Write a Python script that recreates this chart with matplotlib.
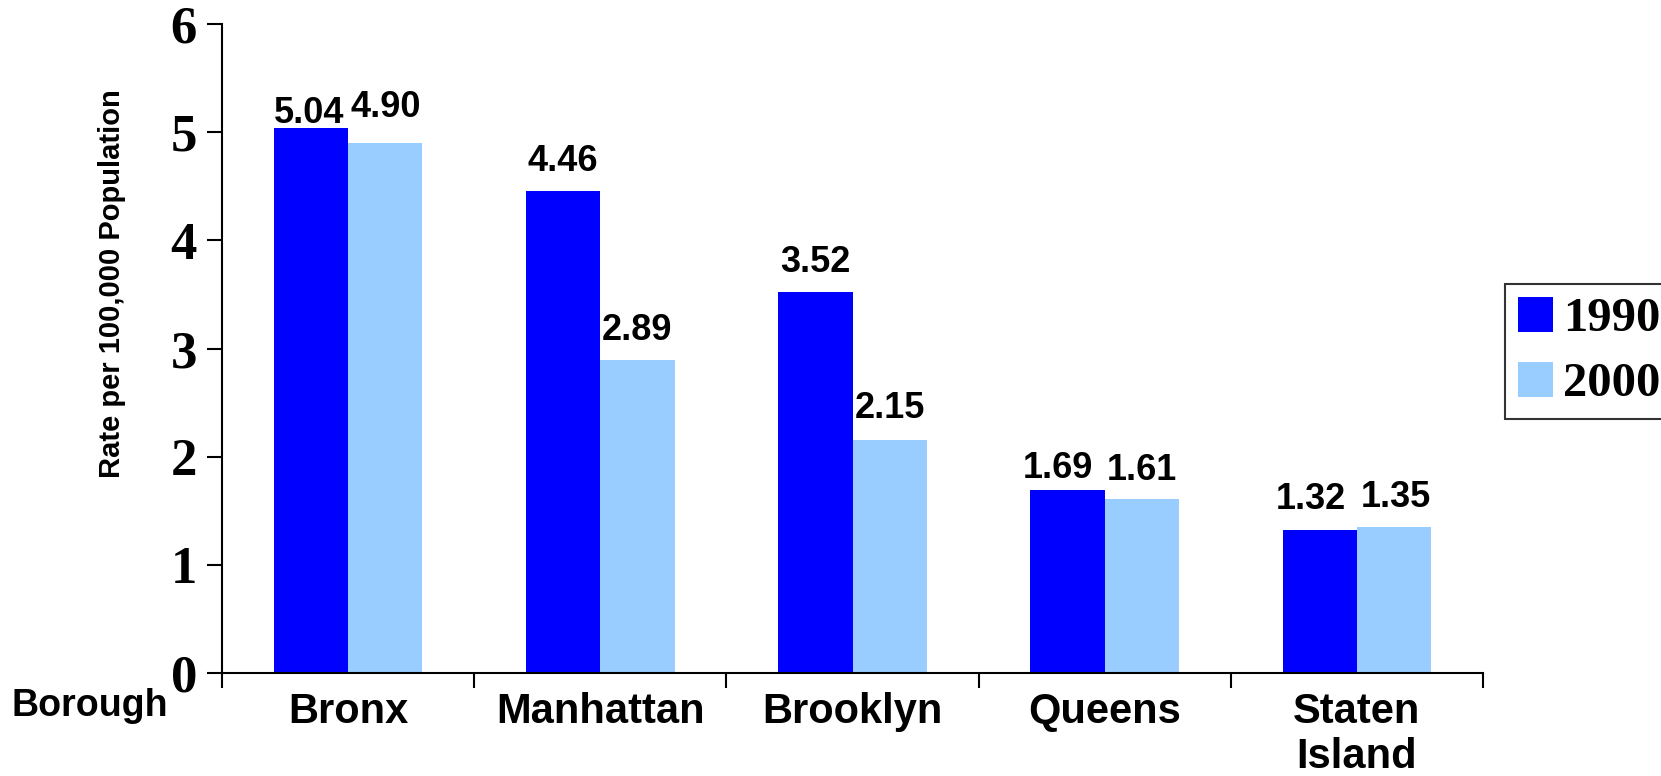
import matplotlib.pyplot as plt
import numpy as np

boroughs = ["Bronx", "Manhattan", "Brooklyn", "Queens", "Staten\nIsland"]
rate_1990 = [5.04, 4.46, 3.52, 1.69, 1.32]
rate_2000 = [4.90, 2.89, 2.15, 1.61, 1.35]
series_names = ["1990", "2000"]

# label nudges in pixels (dx, gap above bar top) - the original is uneven
nudge_1990 = [(-2, 5), (0, 20), (0, 20), (-10, 12), (-9, 21)]
nudge_2000 = [(0, 26), (0, 20), (0, 22), (0, 19), (2, 20)]

c1990 = "#0000FF"
c2000 = "#99CCFF"

fig = plt.figure(figsize=(16.61, 7.76), dpi=100)
ax = fig.add_axes([222/1661, 1-673/776, (1483-222)/1661, (673-24)/776])

x = np.arange(len(boroughs)) + 0.5
w = 0.295

b1 = ax.bar(x - w/2, rate_1990, w, color=c1990, label=series_names[0], zorder=2)
b2 = ax.bar(x + w/2, rate_2000, w, color=c2000, label=series_names[1], zorder=2)

for bars, vals, nudges in ((b1, rate_1990, nudge_1990), (b2, rate_2000, nudge_2000)):
    for bar, v, (dx, g) in zip(bars, vals, nudges):
        ax.annotate(f"{v:.2f}", (bar.get_x() + bar.get_width()/2, v),
                    xytext=(dx*0.72, g*0.72), textcoords="offset points",
                    ha="center", va="baseline", fontsize=26, fontweight="bold",
                    family="Liberation Sans")

ax.set_xlim(0, 5)
ax.set_ylim(0, 6)

for s in ("top", "right"):
    ax.spines[s].set_visible(False)
for s in ("left", "bottom"):
    ax.spines[s].set_linewidth(1.5)

ax.set_yticks(range(7))
ax.set_yticklabels([str(i) for i in range(7)], fontsize=38, fontweight="bold",
                   family="Liberation Serif")
ax.tick_params(axis="y", direction="out", length=11, width=1.5, pad=7)

ax.set_xticks(x)
ax.set_xticklabels(boroughs, fontsize=30, fontweight="bold",
                   family="Liberation Sans", linespacing=1.15)
ax.set_xticks(np.arange(6), minor=True)
ax.tick_params(axis="x", which="major", length=0, pad=14)
ax.tick_params(axis="x", which="minor", direction="out", length=11, width=1.5)

fig.text(112/1661, 1-284/776, "Rate per 100,000 Population", rotation=90,
         ha="center", va="center", fontsize=21, fontweight="bold",
         family="Liberation Sans")
fig.text(11/1661, 1-706/776, "Borough", ha="left", va="center",
         fontsize=27, fontweight="bold", family="Liberation Sans")

leg = fig.legend(handles=[b1, b2], loc="upper left",
                 bbox_to_anchor=(1505/1661, 1-284/776), borderaxespad=0,
                 prop={"family": "Liberation Serif", "weight": "bold", "size": 35},
                 handlelength=0.72, handleheight=0.72, handletextpad=0.2,
                 borderpad=0.27, labelspacing=0.42, fancybox=False)
leg.get_frame().set_edgecolor("black")
leg.get_frame().set_linewidth(1.5)

fig.savefig("out.png", dpi=100)
